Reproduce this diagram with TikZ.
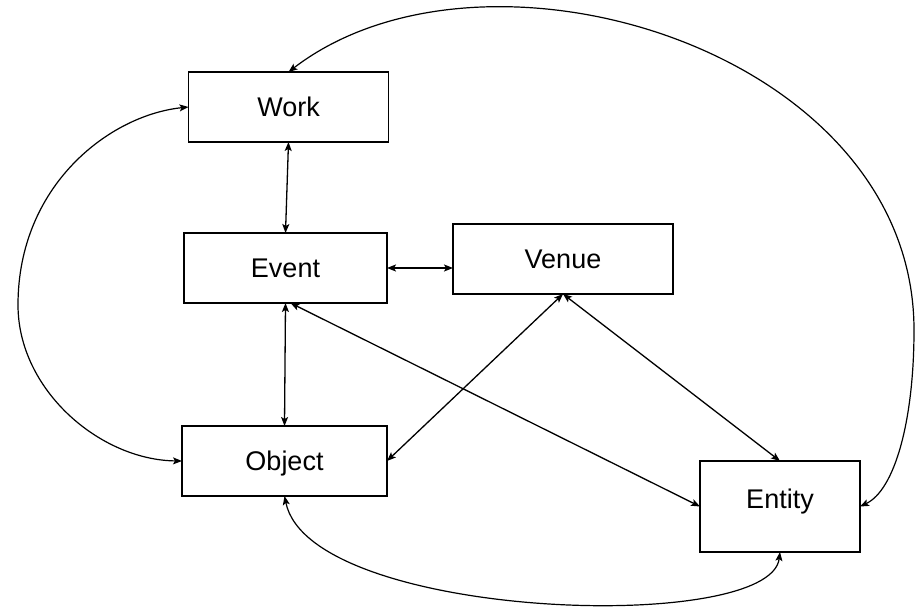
\documentclass[tikz,border=0pt]{standalone}
\usepackage{fontspec}
\setmainfont{Liberation Sans}
\usetikzlibrary{arrows.meta,calc}
\begin{document}
\begin{tikzpicture}[x=1pt,y=-1pt,
  box/.style={draw, line width=1.5pt, inner sep=0pt, outer sep=0pt,
    font=\fontsize{27}{30}\selectfont, text height=19.5pt, text depth=0pt},
  lbl/.style={inner sep=0pt, font=\fontsize{27}{30}\selectfont, text height=19.5pt, text depth=0pt},
  link/.style={line width=1.3pt, <->, >={Stealth[length=9pt,width=7pt,inset=2pt]}},
  curve/.style={line width=1.2pt, <->, >={Stealth[length=9pt,width=7pt,inset=2pt]}}]
\useasboundingbox[fill=white] (0,0) rectangle (916,610);
\node[box, minimum width=200pt, minimum height=70pt] (work) at (288.5,107) {Work};
\node[box, minimum width=203pt, minimum height=70pt] (event) at (285.5,268) {Event};
\node[box, minimum width=220pt, minimum height=70pt] (venue) at (563,259) {Venue};
\node[box, minimum width=205pt, minimum height=70pt] (object) at (284.5,461) {Object};
\node[box, minimum width=160pt, minimum height=91pt] (entity) at (780,506.5) {};
\node[lbl] (entitytext) at (780,499) {Entity};
\coordinate (farright) at (914,330);
\coordinate (farleft) at (18,305);
% straight connectors
\draw[link] (work.south) -- (event.north);
\draw[link] (event.east) -- (event.east -| venue.west);
\draw[link] (event.south) -- (object.north);
\draw[link] (venue.south) -- (object.east);
\draw[link] (venue.south) -- (entity.north);
\draw[link] ([xshift=5pt]event.south) -- (entity.west);
% curved connectors
\draw[curve] (work.west) .. controls (110,115) and (18,185) .. (farleft) .. controls (18,390) and (100,460) .. (object.west);
\draw[curve] (work.north) .. controls (485,-79) and (914,50) .. (farright) .. controls (914,420) and (895,490) .. (entity.east);
\draw[curve] (object.south) .. controls (310,620) and (770,635) .. (entity.south);
\end{tikzpicture}
\end{document}
